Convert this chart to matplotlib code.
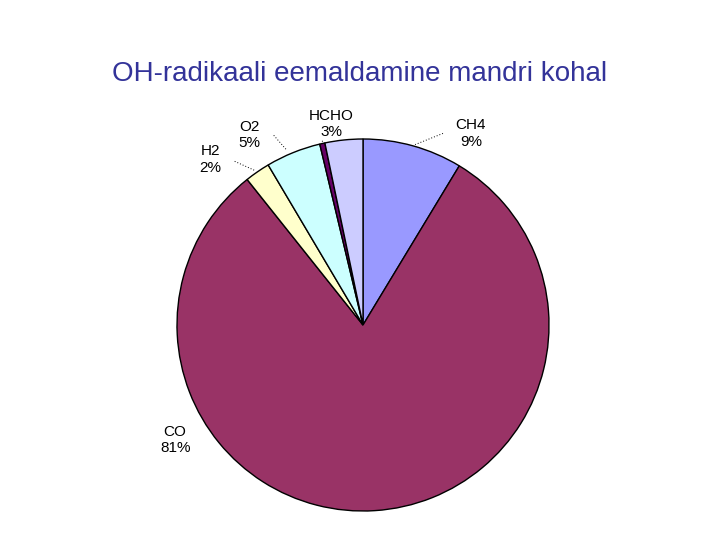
import matplotlib.pyplot as plt
import numpy as np

# Data
names = ['CH4', 'CO', 'H2', 'O2', '', 'HCHO']
values = [8.7, 81.0, 2.2, 4.8, 0.45, 3.3]
shown_pct = ['9%', '81%', '2%', '5%', '', '3%']
colors = ['#9999ff', '#993366', '#ffffcc', '#ccffff', '#660066', '#ccccff']

# label placement (in pie-radius units) and leader lines
label_pos = [(0.58, 1.03), (-1.01, -0.62), (-0.82, 0.89), (-0.61, 1.02), None, (-0.17, 1.08)]
leaders = [((0.43, 1.03), (0.28, 0.97)), None, ((-0.69, 0.88), (-0.58, 0.83)),
           ((-0.48, 1.02), (-0.41, 0.94)), None, ((-0.22, 0.99), (-0.20, 0.97))]

plt.rcParams['font.family'] = ['Liberation Sans', 'DejaVu Sans']

fig = plt.figure(figsize=(7.2, 5.4), dpi=100)
ax = fig.add_axes([0, 0, 1, 1])

wedges, _ = ax.pie(values, colors=colors, startangle=90, counterclock=False,
                   radius=1.0, wedgeprops=dict(edgecolor='black', linewidth=1.0))

for name, pct, pos in zip(names, shown_pct, label_pos):
    if pos is None:
        continue
    ax.text(pos[0], pos[1], f'{name}\n{pct}', ha='center', va='center',
            fontsize=11, linespacing=1.2)

for ld in leaders:
    if ld is None:
        continue
    (x0, y0), (x1, y1) = ld
    ax.plot([x0, x1], [y0, y1], color='black', linestyle=(0, (1, 2)), linewidth=0.7)

# pixel-matched limits: center at (363, 325) px, radius 186 px
r = 186.0
ax.set_xlim(-363 / r, (720 - 363) / r)
ax.set_ylim(-(540 - 325) / r, 325 / r)
ax.set_aspect('equal')
ax.axis('off')

fig.text(0.5, 1 - 74 / 540, 'OH-radikaali eemaldamine mandri kohal', ha='center',
         va='center', fontsize=20, color='#333399')

fig.savefig('out.png', dpi=100)
